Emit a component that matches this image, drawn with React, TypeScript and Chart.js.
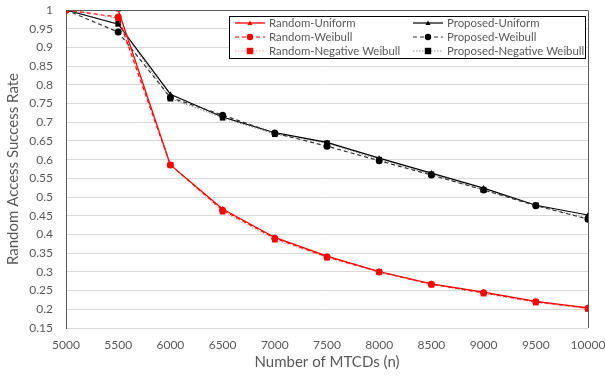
import React, { useEffect, useRef } from "react";
import { Chart, registerables } from "chart.js";

Chart.register(...registerables);

const nValues = [5000, 5500, 6000, 6500, 7000, 7500, 8000, 8500, 9000, 9500, 10000];
const randomUniform = [1, 1, 0.586, 0.468, 0.392, 0.342, 0.301, 0.268, 0.246, 0.221, 0.204];
const randomWeibull = [1, 0.981, 0.586, 0.465, 0.39, 0.34, 0.3, 0.267, 0.244, 0.22, 0.203];
const randomNegWeibull = [1, 0.978, 0.586, 0.461, 0.386, 0.338, 0.3, 0.266, 0.242, 0.218, 0.201];
const proposedUniform = [1, 0.962, 0.775, 0.714, 0.672, 0.646, 0.604, 0.564, 0.524, 0.478, 0.452];
const proposedWeibull = [1, 0.941, 0.766, 0.719, 0.671, 0.636, 0.597, 0.559, 0.519, 0.477, 0.441];
const proposedNegWeibull = [1, 0.963, 0.763, 0.712, 0.668, 0.644, 0.6, 0.561, 0.519, 0.478, 0.443];
const yTickValues = [1, 0.95, 0.9, 0.85, 0.8, 0.75, 0.7, 0.65, 0.6, 0.55, 0.5, 0.45, 0.4, 0.35, 0.3, 0.25, 0.2, 0.15];
const seriesLabels = [
  "Random-Uniform",
  "Random-Weibull",
  "Random-Negative Weibull",
  "Proposed-Uniform",
  "Proposed-Weibull",
  "Proposed-Negative Weibull",
];
const xTitle = "Number of MTCDs (n)";
const yTitle = "Random Access Success Rate";

const FONT = "Lato, 'Noto Sans', sans-serif";
const TXT = "#595959";

type Style = { color: string; lineColor: string; dash: number[]; width: number; point: string; radius: number };
const styles: Style[] = [
  { color: "#ff0000", lineColor: "#ff0000", dash: [], width: 1.3, point: "triangle", radius: 3 },
  { color: "#ff0000", lineColor: "#ff0000", dash: [4, 3], width: 1.2, point: "circle", radius: 3.5 },
  { color: "#ff0000", lineColor: "rgba(255,80,80,0.55)", dash: [1.5, 1.5], width: 1, point: "rect", radius: 4 },
  { color: "#000000", lineColor: "#000000", dash: [], width: 1.2, point: "triangle", radius: 3 },
  { color: "#000000", lineColor: "#333333", dash: [4, 3], width: 1.2, point: "circle", radius: 3.5 },
  { color: "#000000", lineColor: "rgba(60,60,60,0.6)", dash: [1.5, 1.5], width: 1, point: "rect", radius: 4 },
];

const fmt = (v: number) => String(Number(Number(v).toFixed(2)));

function drawMarker(ctx: CanvasRenderingContext2D, kind: string, x: number, y: number, r: number, color: string) {
  ctx.save();
  ctx.fillStyle = color;
  ctx.setLineDash([]);
  ctx.beginPath();
  if (kind === "triangle") {
    ctx.moveTo(x, y - r);
    ctx.lineTo(x + r, y + r * 0.8);
    ctx.lineTo(x - r, y + r * 0.8);
    ctx.closePath();
  } else if (kind === "circle") {
    ctx.arc(x, y, r, 0, Math.PI * 2);
  } else {
    ctx.rect(x - r, y - r, r * 2, r * 2);
  }
  ctx.fill();
  ctx.restore();
}

const legendPlugin = {
  id: "customLegend",
  afterDraw(chart: any) {
    const ctx: CanvasRenderingContext2D = chart.ctx;
    const { chartArea } = chart;
    ctx.save();
    ctx.strokeStyle = "#595959";
    ctx.lineWidth = 1;
    ctx.beginPath();
    ctx.moveTo(chartArea.left, Math.round(chartArea.top) + 0.5);
    ctx.lineTo(Math.round(chartArea.right) + 0.5, Math.round(chartArea.top) + 0.5);
    ctx.lineTo(Math.round(chartArea.right) + 0.5, chartArea.bottom);
    ctx.stroke();

    const bx = 229, by = 16, bw = 356, bh = 42;
    ctx.fillStyle = "#ffffff";
    ctx.fillRect(bx, by, bw, bh);
    ctx.strokeStyle = "#000000";
    ctx.strokeRect(bx + 0.5, by + 0.5, bw, bh);
    const order = [0, 3, 1, 4, 2, 5];
    ctx.font = `11.4px ${FONT}`;
    ctx.textBaseline = "middle";
    ctx.textAlign = "left";
    order.forEach((di, i) => {
      const col = i % 2;
      const row = Math.floor(i / 2);
      const lx = col === 0 ? 235 : 413;
      const ly = 23 + row * 14;
      const s = styles[di];
      ctx.strokeStyle = s.lineColor;
      ctx.lineWidth = s.width;
      ctx.setLineDash(s.dash);
      ctx.beginPath();
      ctx.moveTo(lx, ly);
      ctx.lineTo(lx + 30, ly);
      ctx.stroke();
      drawMarker(ctx, s.point, lx + 15, ly, s.point === "triangle" ? 2.5 : 3.2, s.color);
      ctx.fillStyle = TXT;
      ctx.fillText(seriesLabels[di], lx + 34, ly + 0.5);
    });
    ctx.restore();
  },
};

export default function App() {
  const ref = useRef<HTMLCanvasElement>(null);
  useEffect(() => {
    document.body.style.margin = "0";
    if (!ref.current) return;
    const all = [randomUniform, randomWeibull, randomNegWeibull, proposedUniform, proposedWeibull, proposedNegWeibull];
    const chart = new Chart(ref.current, {
      type: "line",
      data: {
        datasets: all.map((vals, i) => ({
          label: seriesLabels[i],
          data: vals.map((v, j) => ({ x: nValues[j], y: v })),
          borderColor: styles[i].lineColor,
          backgroundColor: styles[i].color,
          pointBackgroundColor: styles[i].color,
          pointBorderColor: styles[i].color,
          pointStyle: styles[i].point as any,
          pointRadius: styles[i].radius,
          pointBorderWidth: 0,
          borderWidth: styles[i].width,
          borderDash: styles[i].dash,
          fill: false,
          tension: 0,
          order: [3, 2, 1, 6, 5, 4][i],
        })),
      },
      plugins: [legendPlugin],
      options: {
        animation: false,
        responsive: false,
        maintainAspectRatio: false,
        layout: { padding: { top: 10, right: 17, left: 0, bottom: 0 } },
        plugins: { legend: { display: false }, tooltip: { enabled: false } },
        scales: {
          x: {
            type: "linear",
            min: 5000,
            max: 10000,
            ticks: { stepSize: 500, color: TXT, font: { family: FONT, size: 12 }, maxRotation: 0, padding: 10, callback: (v: any) => String(v) },
            grid: { display: false, drawTicks: false },
            border: { display: false },
            title: { display: true, text: xTitle, color: TXT, font: { family: FONT, size: 15 }, padding: { top: 0, bottom: 6 } },
            afterFit: (s: any) => { s.height = 49; s.paddingLeft = 0; s.paddingRight = 0; },
          },
          y: {
            min: 0.15,
            max: 1,
            afterBuildTicks: (s: any) => { s.ticks = yTickValues.map((v) => ({ value: v })); },
            ticks: { color: TXT, font: { family: FONT, size: 12 }, padding: 13, autoSkip: false, callback: (v: any) => fmt(v) },
            grid: { color: "#d9d9d9", drawTicks: false },
            border: { display: true, color: "#595959", width: 1 },
            title: { display: true, text: yTitle, color: TXT, font: { family: FONT, size: 15 }, padding: { top: 4, bottom: 0 } },
            afterFit: (s: any) => { s.width = 66; s.paddingTop = 0; s.paddingBottom = 0; },
          },
        },
      },
    });
    return () => chart.destroy();
  }, []);
  return (
    <div style={{ width: 605, height: 377, background: "#fff" }}>
      <canvas ref={ref} width={605} height={377} style={{ display: "block", width: 605, height: 377 }} />
    </div>
  );
}
